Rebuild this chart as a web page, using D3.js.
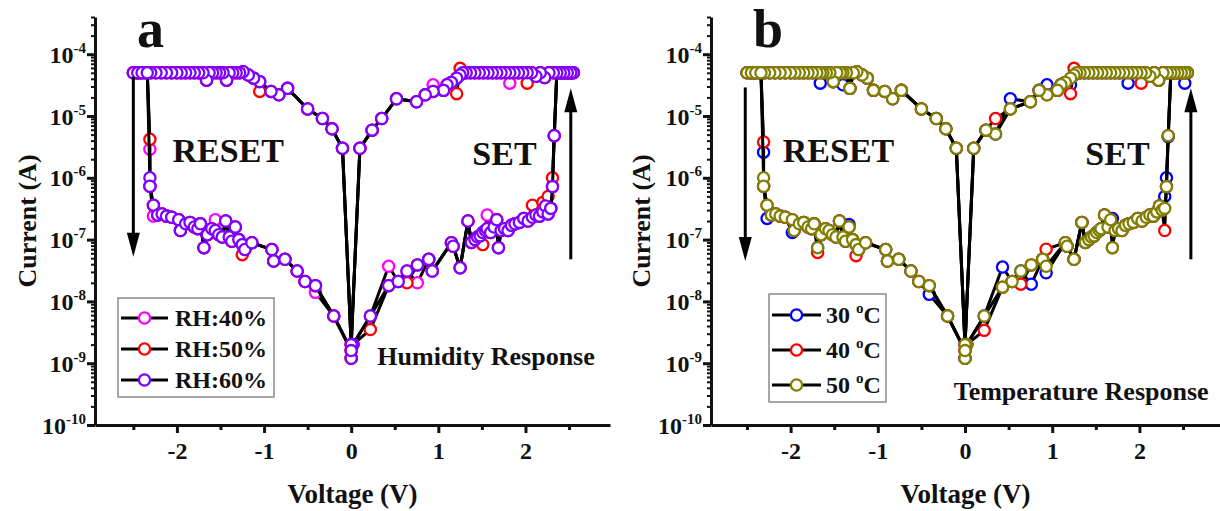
<!DOCTYPE html>
<html>
<head>
<meta charset="utf-8">
<script src="https://cdn.jsdelivr.net/npm/d3@7"></script>
<style>
  html, body { margin: 0; padding: 0; background: #fff; }
  text { font-family: "Liberation Serif", "Times New Roman", serif; font-weight: bold; fill: #111; }
</style>
</head>
<body>
<svg id="chart" width="1220" height="511"></svg>
<script>
// ---------------- DATA ----------------
// Sweep voltages (V), shared by every series of both panels, in sweep order
const voltage = [
  // HRS, 0 -> +2.33 V
  0.00,0.02,0.22,0.43,0.54,0.64,0.76,0.89,0.93,1.15, 1.17,1.25,1.34,1.38,1.42,1.45,1.48,1.51,1.54,1.56,
  1.60,1.64,1.67,1.69,1.72,1.76,1.80,1.84,1.88,1.93, 1.98,2.03,2.08,2.12,2.16,2.20,2.23,2.26,2.29,2.31, 2.33,
  // SET and compliance up to +2.55 V
  2.36,2.39,2.42,2.45,2.48,2.51,2.53,2.55,
  // LRS back from +2.52 V
  2.52,2.48,2.44,2.40,2.36,2.32,2.27,2.22,2.17,2.12, 2.07,2.02,1.97,1.92,1.87,1.82,1.77,1.72,1.67,1.62,
  1.57,1.52,1.47,1.42,1.37,1.32,1.28,
  1.25,1.21,1.15,1.10,1.06,0.94,0.85,0.75,0.52,0.35, 0.24,0.10,
  0.00,
  // LRS, 0 -> -1.24 V
  -0.10,-0.22,-0.33,-0.50,-0.73,-0.83,-0.92,-1.05,-1.12,-1.18, -1.24,
  // compliance to -2.50 V
  -1.28,-1.32,-1.36,-1.40,-1.43,-1.47,-1.51,-1.55,-1.59,-1.63, -1.66,-1.70,-1.75,-1.80,-1.85,-1.90,-1.95,-2.00,-2.06,-2.12,
  -2.18,-2.24,-2.30,-2.36,-2.42,-2.46,-2.50,
  -2.45,-2.40,-2.34,
  // RESET and HRS back to 0 V
  -2.31,-2.31,-2.27,-2.22,-2.17,-2.12,-2.06,-1.98,-1.96,-1.90, -1.85,-1.80,-1.76,-1.73,-1.69,-1.65,-1.60,-1.56,-1.52,-1.48,
  -1.44,-1.40,-1.37,-1.33,-1.29,-1.25,-1.22,-1.14,-0.91,-0.89, -0.76,-0.62,-0.53,-0.41,-0.20,0.00
];

// Panel a: current (A)
const rh40 = [
  1.2e-9,2.0e-9,5.8e-9,3.7e-8,2.1e-8,3.1e-8,2.0e-8,4.8e-8,3.1e-8,8.9e-8, 7.8e-8,3.5e-8,2.0e-7,9.0e-8,1.0e-7,1.1e-7,1.15e-7,1.3e-7,1.4e-7,2.5e-7,
  1.3e-7,1.6e-7,2.1e-7,7.4e-8,1.4e-7,1.5e-7,1.4e-7,1.7e-7,1.8e-7,1.9e-7, 2.2e-7,2.0e-7,2.3e-7,2.5e-7,2.4e-7,2.8e-7,3.5e-7,2.6e-7,3.2e-7,7.2e-7, 4.8e-6,
  5e-5,5e-5,5e-5,5e-5,5e-5,5e-5,5e-5,5e-5,
  5e-5,5e-5,5e-5,5e-5,5e-5,5e-5,5e-5,4.2e-5,5e-5,4.4e-5, 5e-5,5e-5,5e-5,5e-5,5e-5,3.4e-5,5e-5,5e-5,5e-5,5e-5,
  5e-5,5e-5,5e-5,5e-5,5e-5,5e-5,5e-5,
  4.6e-5,4.1e-5,3.5e-5,3.2e-5,2.6e-5,3.2e-5,2.2e-5,1.7e-5,1.9e-5,9.1e-6, 5.9e-6,3.0e-6,
  2.0e-9,
  3.0e-6,6.2e-6,9.1e-6,1.3e-5,2.8e-5,2.2e-5,2.5e-5,3.6e-5,4.1e-5,4.6e-5, 5.2e-5,
  5e-5,5e-5,5e-5,5e-5,3.8e-5,5e-5,5e-5,5e-5,5e-5,5e-5, 3.8e-5,5e-5,5e-5,5e-5,5e-5,5e-5,5e-5,5e-5,5e-5,5e-5,
  5e-5,5e-5,5e-5,5e-5,5e-5,5e-5,5e-5,
  5e-5,5e-5,5e-5,
  2.9e-6,7.3e-7,2.4e-7,2.5e-7,2.6e-7,2.4e-7,2.3e-7,2.1e-7,1.4e-7,1.8e-7, 1.9e-7,1.6e-7,1.5e-7,1.8e-7,7.4e-8,1.2e-7,1.5e-7,2.1e-7,1.2e-7,1.1e-7,
  2.0e-7,1.1e-7,9.4e-8,1.6e-7,1.0e-7,8.3e-8,6.9e-8,8.9e-8,6.9e-8,4.5e-8, 4.8e-8,3.1e-8,2.1e-8,1.4e-8,5.8e-9,1.6e-9
];
const rh50 = [
  1.2e-9,2.0e-9,3.5e-9,1.8e-8,2.1e-8,2.0e-8,3.9e-8,4.8e-8,3.1e-8,8.9e-8, 7.8e-8,3.5e-8,2.0e-7,9.0e-8,1.0e-7,1.1e-7,1.15e-7,8.3e-8,1.4e-7,1.5e-7,
  1.3e-7,1.6e-7,2.1e-7,7.4e-8,1.4e-7,1.5e-7,1.4e-7,1.7e-7,1.8e-7,1.9e-7, 2.2e-7,2.0e-7,3.6e-7,2.5e-7,2.4e-7,4.0e-7,3.5e-7,5.0e-7,3.2e-7,1.0e-6, 4.8e-6,
  5e-5,5e-5,5e-5,5e-5,5e-5,5e-5,5e-5,5e-5,
  5e-5,5e-5,5e-5,5e-5,5e-5,5e-5,5e-5,4.2e-5,5e-5,4.4e-5, 5e-5,3.4e-5,5e-5,5e-5,5e-5,5e-5,5e-5,5e-5,5e-5,5e-5,
  5e-5,5e-5,5e-5,5e-5,5e-5,5e-5,5e-5,
  5.9e-5,2.3e-5,3.5e-5,3.2e-5,2.6e-5,2.5e-5,2.2e-5,1.7e-5,1.9e-5,9.1e-6, 5.9e-6,3.0e-6,
  2.0e-9,
  3.0e-6,6.2e-6,9.1e-6,1.3e-5,2.8e-5,2.2e-5,2.5e-5,2.5e-5,4.1e-5,4.6e-5, 5.2e-5,
  5e-5,5e-5,5e-5,5e-5,3.8e-5,5e-5,5e-5,5e-5,5e-5,5e-5, 3.8e-5,5e-5,5e-5,5e-5,5e-5,5e-5,5e-5,5e-5,5e-5,5e-5,
  5e-5,5e-5,5e-5,5e-5,5e-5,5e-5,5e-5,
  5e-5,5e-5,5e-5,
  4.2e-6,7.3e-7,3.6e-7,2.5e-7,2.6e-7,2.4e-7,2.3e-7,2.1e-7,1.4e-7,1.8e-7, 1.9e-7,1.6e-7,1.5e-7,1.8e-7,7.4e-8,1.2e-7,1.5e-7,1.4e-7,1.2e-7,1.1e-7,
  2.0e-7,1.1e-7,9.4e-8,1.6e-7,1.0e-7,5.7e-8,6.9e-8,8.9e-8,6.9e-8,4.5e-8, 4.8e-8,3.1e-8,2.1e-8,1.8e-8,5.8e-9,1.6e-9
];
const rh60 = [
  1.2e-9,2.0e-9,5.8e-9,1.8e-8,2.1e-8,3.1e-8,3.9e-8,4.8e-8,3.1e-8,8.9e-8, 7.8e-8,3.5e-8,2.0e-7,9.0e-8,1.0e-7,1.1e-7,1.15e-7,1.3e-7,1.4e-7,1.5e-7,
  1.3e-7,1.6e-7,2.1e-7,7.4e-8,1.4e-7,1.5e-7,1.4e-7,1.7e-7,1.8e-7,1.9e-7, 2.2e-7,2.0e-7,2.3e-7,2.5e-7,2.4e-7,2.8e-7,3.5e-7,2.6e-7,3.2e-7,7.2e-7, 4.8e-6,
  5e-5,5e-5,5e-5,5e-5,5e-5,5e-5,5e-5,5e-5,
  5e-5,5e-5,5e-5,5e-5,5e-5,5e-5,5e-5,4.2e-5,5e-5,4.4e-5, 5e-5,5e-5,5e-5,5e-5,5e-5,5e-5,5e-5,5e-5,5e-5,5e-5,
  5e-5,5e-5,5e-5,5e-5,5e-5,5e-5,5e-5,
  4.6e-5,4.1e-5,3.5e-5,3.2e-5,2.6e-5,2.5e-5,2.2e-5,1.7e-5,1.9e-5,9.1e-6, 5.9e-6,3.0e-6,
  2.0e-9,
  3.0e-6,6.2e-6,9.1e-6,1.3e-5,2.8e-5,2.2e-5,2.5e-5,3.6e-5,4.1e-5,4.6e-5, 5.2e-5,
  5e-5,5e-5,5e-5,5e-5,3.8e-5,5e-5,5e-5,5e-5,5e-5,5e-5, 3.8e-5,5e-5,5e-5,5e-5,5e-5,5e-5,5e-5,5e-5,5e-5,5e-5,
  5e-5,5e-5,5e-5,5e-5,5e-5,5e-5,5e-5,
  5e-5,5e-5,5e-5,
  1.0e-6,7.3e-7,3.6e-7,2.5e-7,2.6e-7,2.4e-7,2.3e-7,2.1e-7,1.4e-7,1.8e-7, 1.9e-7,1.6e-7,1.5e-7,1.8e-7,7.4e-8,1.2e-7,1.5e-7,1.4e-7,1.2e-7,1.1e-7,
  2.0e-7,1.1e-7,9.4e-8,1.6e-7,1.0e-7,8.3e-8,6.9e-8,8.9e-8,6.9e-8,4.5e-8, 4.8e-8,3.1e-8,2.1e-8,1.8e-8,5.8e-9,1.6e-9
];

// Panel b: current (A)
const t30 = [
  1.2e-9,2.0e-9,5.8e-9,3.6e-8,2.1e-8,3.1e-8,1.9e-8,4.8e-8,2.9e-8,8.9e-8, 7.8e-8,4.8e-8,1.9e-7,9.0e-8,1.0e-7,1.1e-7,1.15e-7,1.3e-7,1.4e-7,1.5e-7,
  2.5e-7,1.6e-7,2.1e-7,2.2e-7,1.4e-7,1.5e-7,1.4e-7,1.7e-7,1.8e-7,1.9e-7, 2.2e-7,2.0e-7,2.3e-7,2.5e-7,2.4e-7,2.8e-7,3.5e-7,3.0e-7,5.0e-7,1.0e-6, 4.6e-6,
  5e-5,5e-5,5e-5,5e-5,5e-5,5e-5,5e-5,5e-5,
  3.4e-5,5e-5,5e-5,5e-5,5e-5,5e-5,5e-5,3.8e-5,5e-5,4.4e-5, 5e-5,5e-5,5e-5,5e-5,3.4e-5,5e-5,5e-5,5e-5,5e-5,5e-5,
  5e-5,5e-5,5e-5,5e-5,5e-5,5e-5,5e-5,
  4.6e-5,3.2e-5,3.5e-5,3.2e-5,2.6e-5,3.2e-5,2.6e-5,1.7e-5,1.9e-5,5.1e-6, 5.9e-6,3.0e-6,
  2.0e-9,
  3.0e-6,6.2e-6,9.1e-6,1.3e-5,2.6e-5,1.9e-5,2.5e-5,2.6e-5,4.1e-5,4.6e-5, 5.2e-5,
  5e-5,2.8e-5,5e-5,3.2e-5,5e-5,5e-5,3.6e-5,5e-5,5e-5,5e-5, 3.4e-5,5e-5,5e-5,5e-5,5e-5,5e-5,5e-5,5e-5,5e-5,5e-5,
  5e-5,5e-5,5e-5,5e-5,5e-5,5e-5,5e-5,
  5e-5,5e-5,5e-5,
  2.6e-6,7.3e-7,2.2e-7,2.5e-7,2.6e-7,2.4e-7,2.3e-7,1.3e-7,1.4e-7,1.8e-7, 1.9e-7,1.6e-7,1.5e-7,1.8e-7,7.4e-8,1.2e-7,1.5e-7,1.4e-7,1.2e-7,1.1e-7,
  2.0e-7,1.1e-7,9.4e-8,1.75e-7,1.0e-7,8.3e-8,6.9e-8,8.9e-8,6.9e-8,4.5e-8, 4.8e-8,3.1e-8,2.1e-8,1.3e-8,5.8e-9,1.6e-9
];
const t40 = [
  1.2e-9,2.0e-9,3.4e-9,1.7e-8,2.1e-8,1.9e-8,3.9e-8,4.8e-8,7.0e-8,8.9e-8, 7.8e-8,4.8e-8,1.9e-7,9.0e-8,1.0e-7,1.1e-7,1.15e-7,1.3e-7,1.4e-7,1.5e-7,
  2.5e-7,1.6e-7,2.1e-7,7.4e-8,1.4e-7,1.5e-7,1.4e-7,1.7e-7,1.8e-7,1.9e-7, 2.2e-7,2.0e-7,2.3e-7,2.5e-7,2.4e-7,2.8e-7,3.5e-7,3.0e-7,1.4e-7,7.2e-7, 4.8e-6,
  5e-5,5e-5,5e-5,5e-5,5e-5,5e-5,5e-5,5e-5,
  5e-5,5e-5,5e-5,5e-5,5e-5,5e-5,5e-5,3.8e-5,5e-5,4.4e-5, 5e-5,3.4e-5,5e-5,5e-5,5e-5,5e-5,5e-5,5e-5,5e-5,5e-5,
  5e-5,5e-5,5e-5,5e-5,5e-5,5e-5,5e-5,
  5.9e-5,2.3e-5,3.5e-5,3.2e-5,2.6e-5,2.2e-5,2.6e-5,1.7e-5,1.3e-5,9.1e-6, 5.9e-6,3.0e-6,
  2.0e-9,
  3.0e-6,6.2e-6,9.1e-6,1.3e-5,2.6e-5,1.9e-5,2.5e-5,2.6e-5,4.1e-5,4.6e-5, 5.2e-5,
  5e-5,2.8e-5,5e-5,5e-5,5e-5,5e-5,3.6e-5,5e-5,5e-5,5e-5, 5e-5,5e-5,5e-5,5e-5,5e-5,5e-5,5e-5,5e-5,5e-5,5e-5,
  5e-5,5e-5,5e-5,5e-5,5e-5,5e-5,5e-5,
  5e-5,5e-5,5e-5,
  3.8e-6,7.3e-7,3.6e-7,2.5e-7,2.6e-7,2.4e-7,2.3e-7,2.1e-7,1.4e-7,1.8e-7, 1.9e-7,1.6e-7,1.5e-7,1.8e-7,6.2e-8,1.2e-7,1.5e-7,1.4e-7,1.2e-7,1.1e-7,
  2.0e-7,1.1e-7,9.4e-8,1.6e-7,1.0e-7,5.5e-8,6.9e-8,8.9e-8,6.9e-8,4.5e-8, 4.8e-8,3.1e-8,2.1e-8,1.8e-8,5.8e-9,1.6e-9
];
const t50 = [
  1.2e-9,2.0e-9,5.8e-9,1.7e-8,2.1e-8,3.1e-8,3.9e-8,4.8e-8,3.7e-8,8.9e-8, 7.8e-8,4.8e-8,1.9e-7,9.0e-8,1.0e-7,1.1e-7,1.15e-7,1.3e-7,1.4e-7,1.5e-7,
  2.5e-7,1.6e-7,2.1e-7,7.4e-8,1.4e-7,1.5e-7,1.4e-7,1.7e-7,1.8e-7,1.9e-7, 2.2e-7,2.0e-7,2.3e-7,2.5e-7,2.4e-7,2.8e-7,3.5e-7,3.0e-7,3.2e-7,7.2e-7, 4.8e-6,
  5e-5,5e-5,5e-5,5e-5,5e-5,5e-5,5e-5,5e-5,
  5e-5,5e-5,5e-5,5e-5,5e-5,5e-5,5e-5,3.8e-5,5e-5,4.4e-5, 5e-5,5e-5,5e-5,5e-5,5e-5,5e-5,5e-5,5e-5,5e-5,5e-5,
  5e-5,5e-5,5e-5,5e-5,5e-5,5e-5,5e-5,
  4.6e-5,4.1e-5,3.5e-5,3.2e-5,2.6e-5,2.2e-5,2.6e-5,1.7e-5,1.3e-5,5.1e-6, 5.9e-6,3.0e-6,
  2.0e-9,
  3.0e-6,6.2e-6,9.1e-6,1.3e-5,2.6e-5,1.9e-5,2.5e-5,2.6e-5,4.1e-5,4.6e-5, 5.2e-5,
  5e-5,2.8e-5,5e-5,5e-5,5e-5,5e-5,3.6e-5,5e-5,5e-5,5e-5, 5e-5,5e-5,5e-5,5e-5,5e-5,5e-5,5e-5,5e-5,5e-5,5e-5,
  5e-5,5e-5,5e-5,5e-5,5e-5,5e-5,5e-5,
  5e-5,5e-5,5e-5,
  1.0e-6,7.3e-7,3.6e-7,2.5e-7,2.6e-7,2.4e-7,2.3e-7,2.1e-7,1.4e-7,1.8e-7, 1.9e-7,1.6e-7,1.5e-7,1.8e-7,7.4e-8,1.2e-7,1.5e-7,1.4e-7,1.2e-7,1.1e-7,
  2.0e-7,1.1e-7,9.4e-8,1.6e-7,1.0e-7,8.3e-8,6.9e-8,8.9e-8,6.9e-8,4.5e-8, 4.8e-8,3.1e-8,2.1e-8,1.8e-8,5.8e-9,1.6e-9
];

// Legend entries
const legendA = ["RH:40%", "RH:50%", "RH:60%"];
const legendB = ["30", "40", "50"];          // in °C
const colorsA = ["#ff00ff", "#ff0000", "#7f00ff"];
const colorsB = ["#0000ff", "#ff0000", "#808000"];

// Axis ticks
const yTickExponents = [-4, -5, -6, -7, -8, -9, -10];
const xTickValues = [-2, -1, 0, 1, 2];
const xMinorValues = [-2.5, -1.5, -0.5, 0.5, 1.5, 2.5];

// Annotations (data coordinates)
const arrowsA = [{ v: -2.50, from: 4.3e-5, to: 5.3e-8 }, { v: 2.52, from: 4.8e-8, to: 2.8e-5 }];
const arrowsB = [{ v: -2.52, from: 2.9e-5, to: 4.5e-8 }, { v: 2.59, from: 4.8e-8, to: 2.8e-5 }];

// ---------------- DRAW ----------------
const svg = d3.select("#chart");
svg.append("rect").attr("width", 1220).attr("height", 511).attr("fill", "#fff");
const FONT = "'Liberation Serif', 'Times New Roman', serif";

function drawPanel(cfg) {
  const g = svg.append("g");
  const x = d3.scaleLinear().domain(cfg.xDomain).range([cfg.left, cfg.right]);
  const y = d3.scaleLog().domain([1e-10, 4e-4]).range([425, 17]);

  // minor y ticks
  const yMinor = [];
  for (let e = -10; e <= -4; e++) for (let m = 2; m <= 9; m++) { const v = m * Math.pow(10, e); if (v <= 4e-4) yMinor.push(v); }
  g.append("g").attr("transform", `translate(${cfg.left},0)`)
    .call(d3.axisLeft(y).tickValues(yMinor).tickSize(4).tickFormat("").tickSizeOuter(0))
    .call(a => a.select(".domain").remove())
    .call(a => a.selectAll("line").attr("stroke", "#111").attr("stroke-width", 2));
  // major y axis
  g.append("g").attr("transform", `translate(${cfg.left},0)`)
    .call(d3.axisLeft(y).tickValues(yTickExponents.map(e => Math.pow(10, e))).tickSize(8).tickFormat("").tickSizeOuter(0))
    .call(a => a.select(".domain").attr("stroke", "#111").attr("stroke-width", 3))
    .call(a => a.selectAll("line").attr("stroke", "#111").attr("stroke-width", 3));
  // y tick labels
  yTickExponents.forEach(e => {
    const t = g.append("text").attr("x", cfg.left - 9).attr("y", y(Math.pow(10, e)) + 8.5)
      .attr("text-anchor", "end").attr("font-size", 24);
    t.append("tspan").text("10");
    t.append("tspan").attr("font-size", 15).attr("dy", -10).text(String(e));
  });

  // x axis
  g.append("g").attr("transform", `translate(0,425)`)
    .call(d3.axisBottom(x).tickValues(xMinorValues).tickSize(5).tickFormat("").tickSizeOuter(0))
    .call(a => a.select(".domain").remove())
    .call(a => a.selectAll("line").attr("stroke", "#111").attr("stroke-width", 3));
  g.append("g").attr("transform", `translate(0,425)`)
    .call(d3.axisBottom(x).tickValues(xTickValues).tickSize(8).tickFormat(d => String(d)).tickSizeOuter(0))
    .call(a => a.select(".domain").attr("stroke", "#111").attr("stroke-width", 3))
    .call(a => a.selectAll("line").attr("stroke", "#111").attr("stroke-width", 3))
    .call(a => a.selectAll("text").attr("font-size", 24).attr("dy", 0).attr("y", 34)
      .style("font-family", FONT).style("font-weight", "bold").attr("fill", "#111"));

  // axis titles
  g.append("text").attr("x", (cfg.left + cfg.right) / 2).attr("y", 503)
    .attr("text-anchor", "middle").attr("font-size", 27).text("Voltage (V)");
  g.append("text").attr("transform", `translate(${cfg.yTitleX},221) rotate(-90)`)
    .attr("text-anchor", "middle").attr("font-size", 26).text("Current (A)");

  // panel letter
  g.append("text").attr("x", cfg.letterX).attr("y", 47).attr("font-size", 54).text(cfg.letter);

  // series
  const line = d3.line().x(d => x(d[0])).y(d => y(d[1]));
  cfg.series.forEach((s, k) => {
    const pts = voltage.map((v, i) => [v, s[i]]);
    g.append("path").datum(pts).attr("d", line)
      .attr("fill", "none").attr("stroke", "#000").attr("stroke-width", 3).attr("stroke-linejoin", "round");
    g.append("g").selectAll("circle").data(pts).join("circle")
      .attr("cx", d => x(d[0])).attr("cy", d => y(d[1])).attr("r", 5.6)
      .attr("fill", "#fff").attr("stroke", cfg.colors[k]).attr("stroke-width", 2.3);
  });

  // arrows
  cfg.arrows.forEach(a => {
    const ax = x(a.v), y0 = y(a.from), y1 = y(a.to);
    const dir = y1 > y0 ? 1 : -1;
    g.append("line").attr("x1", ax).attr("x2", ax).attr("y1", y0).attr("y2", y1 - dir * 14)
      .attr("stroke", "#000").attr("stroke-width", 3);
    g.append("path").attr("d", `M${ax},${y1} L${ax - 6.5},${y1 - dir * 24} L${ax + 6.5},${y1 - dir * 24} Z`).attr("fill", "#000");
  });

  // annotations
  g.append("text").attr("x", x(cfg.resetAt[0])).attr("y", y(cfg.resetAt[1])).attr("font-size", 34).text("RESET");
  g.append("text").attr("x", x(cfg.setAt[0])).attr("y", y(cfg.setAt[1])).attr("font-size", 34).text("SET");
  g.append("text").attr("x", x(cfg.respAt[0])).attr("y", y(cfg.respAt[1])).attr("font-size", 26).text(cfg.respText);

  // legend
  const L = cfg.legend;
  g.append("rect").attr("x", L.x).attr("y", L.y).attr("width", L.w).attr("height", L.h)
    .attr("fill", "#fff").attr("stroke", "#8a8a8a").attr("stroke-width", 1.5);
  cfg.labels.forEach((lab, k) => {
    const cy = L.rows[k];
    g.append("line").attr("x1", L.x + 3).attr("x2", L.x + 3 + L.lineW).attr("y1", cy).attr("y2", cy)
      .attr("stroke", "#000").attr("stroke-width", 3);
    g.append("circle").attr("cx", L.x + 3 + L.lineW / 2).attr("cy", cy).attr("r", 5.6)
      .attr("fill", "#fff").attr("stroke", cfg.colors[k]).attr("stroke-width", 2.3);
    const t = g.append("text").attr("x", L.x + L.textOff).attr("y", cy + 8).attr("font-size", 24);
    if (cfg.degree) {
      t.append("tspan").text(lab + " ");
      t.append("tspan").attr("font-size", 15).attr("dy", -10).text("o");
      t.append("tspan").attr("dy", 10).text("C");
    } else {
      t.text(lab);
    }
  });
}

drawPanel({
  left: 95, right: 610, xDomain: [-2.94, 2.97], yTitleX: 36, letter: "a", letterX: 137,
  series: [rh40, rh50, rh60], colors: colorsA, labels: legendA, degree: false,
  arrows: arrowsA,
  resetAt: [-2.05, 1.8e-6], setAt: [1.39, 1.6e-6], respAt: [0.30, 9.5e-10], respText: "Humidity Response",
  legend: { x: 118, y: 298, w: 156, h: 99, rows: [318, 349, 380], lineW: 47, textOff: 57 }
});
drawPanel({
  left: 711, right: 1220, xDomain: [-2.913, 2.924], yTitleX: 650, letter: "b", letterX: 753,
  series: [t30, t40, t50], colors: colorsB, labels: legendB, degree: true,
  arrows: arrowsB,
  resetAt: [-2.09, 1.8e-6], setAt: [1.38, 1.6e-6], respAt: [-0.13, 2.5e-10], respText: "Temperature Response",
  legend: { x: 769, y: 294, w: 117, h: 108, rows: [315, 350, 385], lineW: 49, textOff: 57 }
});
</script>
</body>
</html>
